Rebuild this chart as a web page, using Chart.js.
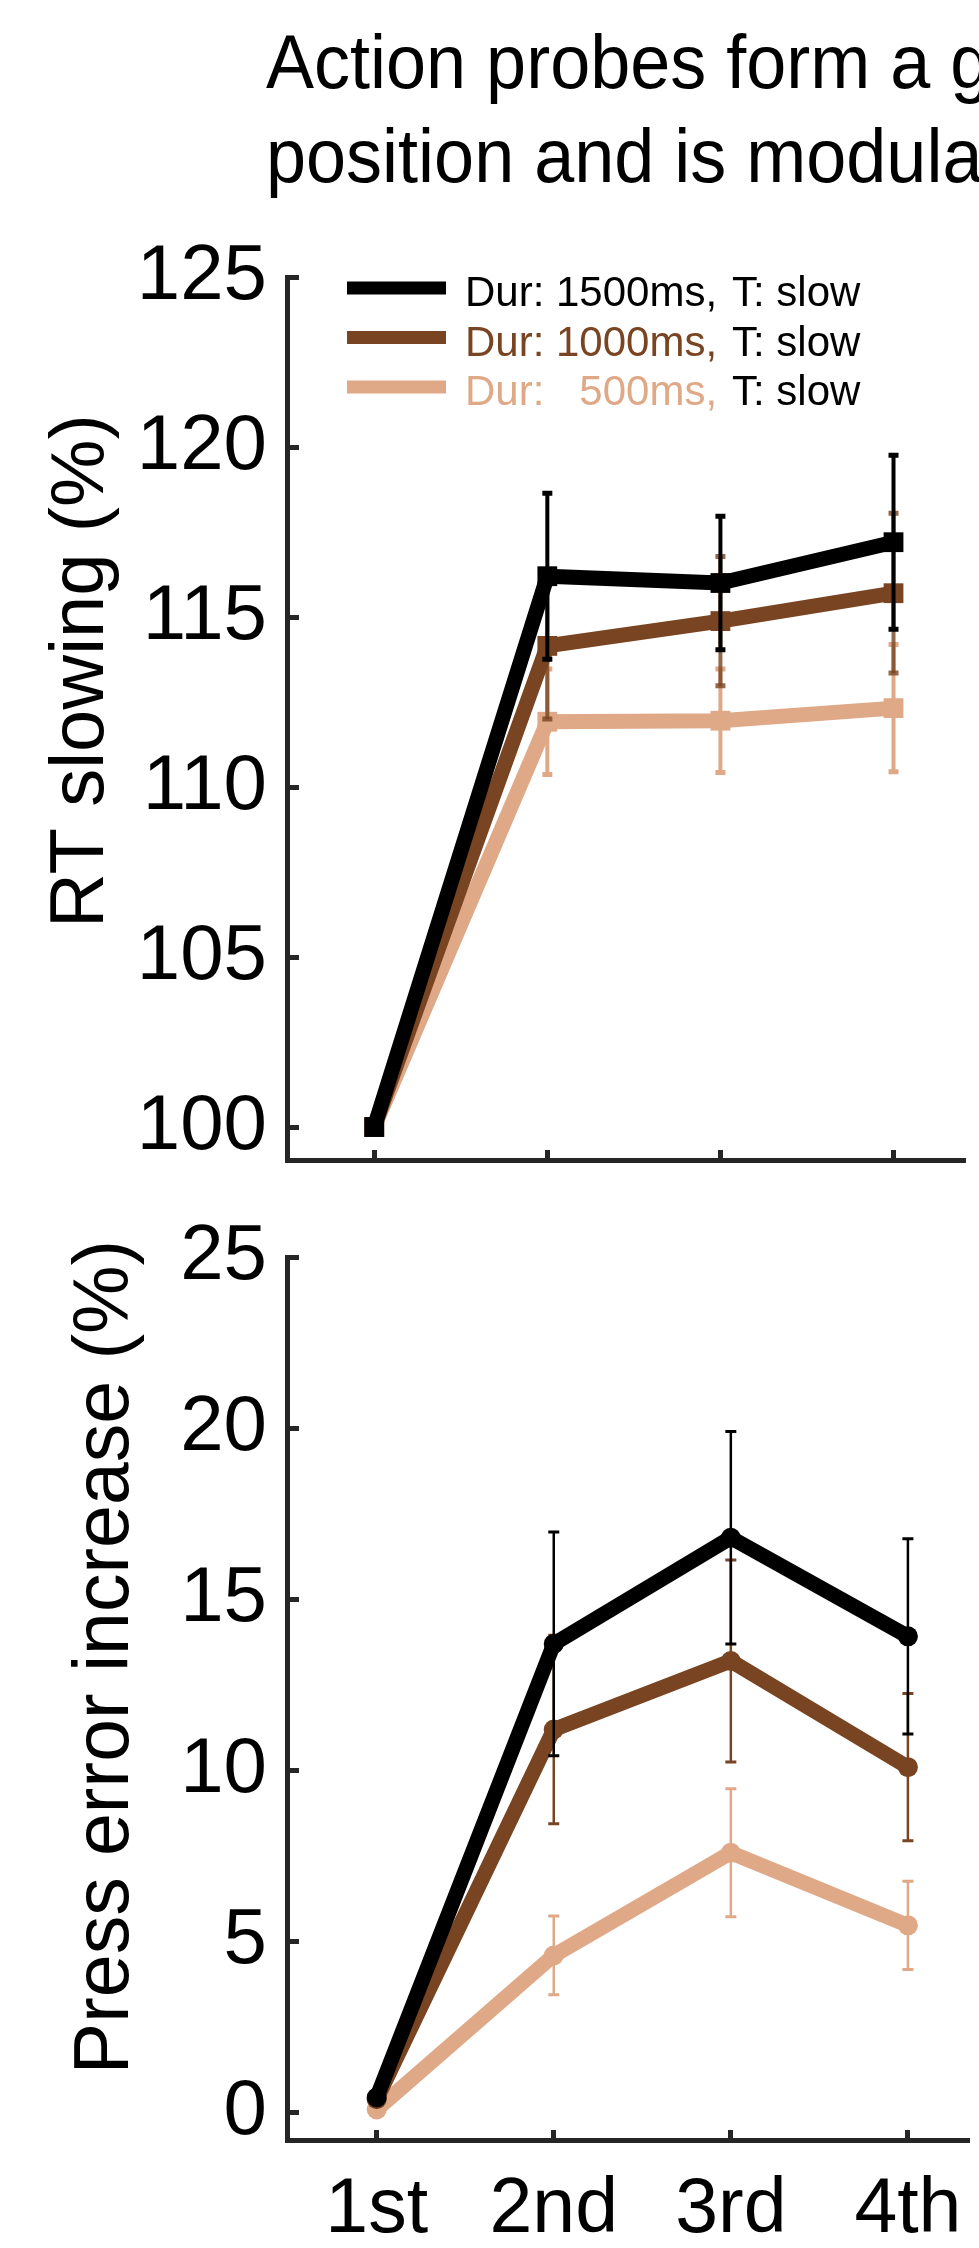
<!DOCTYPE html>
<html>
<head>
<meta charset="utf-8">
<script src="https://cdn.jsdelivr.net/npm/chart.js@4.4.1/dist/chart.umd.min.js"></script>
<style>
  html, body { margin: 0; padding: 0; background: #fff; }
  body { width: 979px; height: 2248px; overflow: hidden; position: relative; font-family: 'Liberation Sans', Arial, sans-serif; }
  #titulo { position: absolute; left: 266px; top: 14px; font-size: 72px; line-height: 90px; white-space: nowrap; color: #000; z-index: 2; transform: scaleY(1.05); transform-origin: 0 0; }
  canvas { position: absolute; left: 0; }
  #rt { top: 0; }
  #erro { top: 1200px; }
</style>
</head>
<body>
<div id="titulo">Action probes form a g<br>position and is modula</div>
<canvas id="rt" width="979" height="1200"></canvas>
<canvas id="erro" width="979" height="1048"></canvas>
<script>
const posicoes = [1, 2, 3, 4]
const categorias = ['1st', '2nd', '3rd', '4th']
const ticksRT = [100, 105, 110, 115, 120, 125]
const ticksErro = [0, 5, 10, 15, 20, 25]

const legendaDur = ['Dur: 1500ms,', 'Dur: 1000ms,', 'Dur:   500ms,']
const legendaT = 'T: slow'
const cores = ['#000000', '#784421', '#dfa987']

// RT slowing (%) - media e erro padrao
const rt1500 = [100, 116.2, 116.0, 117.2]
const rtErro1500 = [0, 2.44, 1.96, 2.56]
const rt1000 = [100, 114.15, 114.88, 115.7]
const rtErro1000 = [0, 2.15, 1.9, 2.35]
const rt500 = [100, 111.92, 111.95, 112.32]
const rtErro500 = [0, 1.55, 1.52, 1.87]

// Press error increase (%)
const pe1500 = [0.45, 13.7, 16.8, 13.92]
const peErro1500 = [0.1, 3.27, 3.1, 2.85]
const pe1000 = [0.4, 11.2, 13.2, 10.1]
const peErro1000 = [0.1, 2.75, 2.95, 2.15]
const pe500 = [0.1, 4.6, 7.6, 5.48]
const peErro500 = [0.05, 1.15, 1.87, 1.29]

const fonte = '"Liberation Sans", Arial, sans-serif'
const corEixo = '#262626'

const barrasErro = {
    id: 'barrasErro',
    afterDatasetDraw(chart, args, opts) {
        const ds = chart.data.datasets[args.index]
        if (!ds.erros) return
        const ctx = chart.ctx
        const x = chart.scales.x
        const y = chart.scales.y
        ctx.save()
        ctx.strokeStyle = ds.corErro || ds.borderColor
        ds.data.forEach((p, i) => {
            const px = x.getPixelForValue(p.x)
            const topo = y.getPixelForValue(p.y + ds.erros[i])
            const base = y.getPixelForValue(p.y - ds.erros[i])
            ctx.lineWidth = opts.largura
            ctx.beginPath()
            ctx.moveTo(px, topo)
            ctx.lineTo(px, base)
            ctx.stroke()
            ctx.lineWidth = opts.capa
            ctx.beginPath()
            ctx.moveTo(px - opts.meia, topo)
            ctx.lineTo(px + opts.meia, topo)
            ctx.moveTo(px - opts.meia, base)
            ctx.lineTo(px + opts.meia, base)
            ctx.stroke()
        })
        ctx.restore()
    }
}

const tituloY = {
    id: 'tituloY',
    afterDraw(chart, args, opts) {
        const ctx = chart.ctx
        ctx.save()
        ctx.font = `${opts.tamanho}px ${fonte}`
        ctx.fillStyle = '#000'
        ctx.textAlign = 'center'
        ctx.textBaseline = 'alphabetic'
        ctx.translate(opts.x, opts.y)
        ctx.rotate(-Math.PI / 2)
        ctx.fillText(opts.texto, 0, 0)
        ctx.restore()
    }
}

const legenda = {
    id: 'legenda',
    afterDraw(chart) {
        const ctx = chart.ctx
        ctx.save()
        ctx.font = `42px ${fonte}`
        ctx.textBaseline = 'alphabetic'
        chart.data.datasets.forEach((ds, i) => {
            const yy = 288 + i * 49.5
            ctx.strokeStyle = ds.borderColor
            ctx.lineWidth = 13
            ctx.beginPath()
            ctx.moveTo(347, yy)
            ctx.lineTo(446, yy)
            ctx.stroke()
            ctx.fillStyle = ds.borderColor
            ctx.fillText(ds.label, 465, yy + 18)
            ctx.fillStyle = '#000'
            ctx.fillText(legendaT, 732, yy + 18)
        })
        ctx.restore()
    }
}

function serie(i, medias, erros, cfg) {
    return {
        label: legendaDur[i],
        data: posicoes.map((x, k) => ({ x: x, y: medias[k] })),
        erros: erros,
        corErro: cfg.corErro ? cfg.corErro[i] : null,
        borderColor: cores[i],
        backgroundColor: cores[i],
        borderWidth: cfg.linha,
        borderJoinStyle: cfg.juncao,
        pointStyle: cfg.marcador,
        pointRadius: cfg.raio,
        pointBorderWidth: 0,
        pointBackgroundColor: cores[i],
        tension: 0
    }
}

function montarGrafico(id, series, cfg) {
    const ctx = document.getElementById(id)
    return new Chart(ctx, {
        type: 'line',
        data: {
            datasets: series.map((s, i) => serie(i, s[0], s[1], cfg))
        },
        options: {
            responsive: false,
            animation: false,
            devicePixelRatio: 1,
            layout: { padding: { top: cfg.topo, left: 0, right: 0, bottom: 0 } },
            plugins: {
                legend: { display: false },
                tooltip: { enabled: false },
                tituloY: cfg.titulo,
                barrasErro: cfg.barras
            },
            scales: {
                x: {
                    type: 'linear',
                    min: cfg.xMin,
                    max: cfg.xMax,
                    afterBuildTicks: s => { s.ticks = posicoes.map(v => ({ value: v })) },
                    afterFit: s => { s.height = cfg.alturaX; s.paddingLeft = 0; s.paddingRight = 0 },
                    ticks: {
                        autoSkip: false,
                        maxRotation: 0,
                        padding: 35,
                        color: '#000',
                        font: { family: fonte, size: 77 },
                        callback: (v, idx) => cfg.rotulos ? categorias[idx] : ''
                    },
                    grid: { drawOnChartArea: false, tickLength: -10, tickColor: corEixo, tickWidth: 5 },
                    border: { color: corEixo, width: 5 }
                },
                y: {
                    type: 'linear',
                    min: cfg.yMin,
                    max: cfg.yMax,
                    afterBuildTicks: s => { s.ticks = cfg.ticksY.map(v => ({ value: v })) },
                    afterFit: s => { s.width = 287; s.paddingTop = 0; s.paddingBottom = 0 },
                    ticks: {
                        autoSkip: false,
                        padding: 32,
                        color: '#000',
                        font: { family: fonte, size: 78 }
                    },
                    grid: { drawOnChartArea: false, tickLength: -12, tickColor: corEixo, tickWidth: 5 },
                    border: { color: corEixo, width: 5 }
                }
            }
        },
        plugins: cfg.legenda ? [barrasErro, tituloY, legenda] : [barrasErro, tituloY]
    })
}

montarGrafico('rt', [[rt1500, rtErro1500], [rt1000, rtErro1000], [rt500, rtErro500]], {
    topo: 277,
    alturaX: 40,
    xMin: 0.496,
    xMax: 4.413,
    yMin: 99.03,
    yMax: 125,
    ticksY: ticksRT,
    rotulos: false,
    linha: 15,
    juncao: 'miter',
    marcador: 'rect',
    raio: 14,
    corErro: ['#000000', 'rgba(120,68,33,0.8)', '#dfa987'],
    barras: { largura: 4, capa: 5, meia: 5 },
    titulo: { texto: 'RT slowing (%)', x: 103, y: 671, tamanho: 76 },
    legenda: true
})

montarGrafico('erro', [[pe1500, peErro1500], [pe1000, peErro1000], [pe500, peErro500]], {
    topo: 57,
    alturaX: 108,
    xMin: 0.4935,
    xMax: 4.345,
    yMin: -0.79,
    yMax: 25,
    ticksY: ticksErro,
    rotulos: true,
    linha: 15,
    juncao: 'round',
    marcador: 'circle',
    raio: 10,
    barras: { largura: 2.5, capa: 3, meia: 5.5 },
    titulo: { texto: 'Press error increase (%)', x: 128, y: 457, tamanho: 77 },
    legenda: false
})
</script>
</body>
</html>
